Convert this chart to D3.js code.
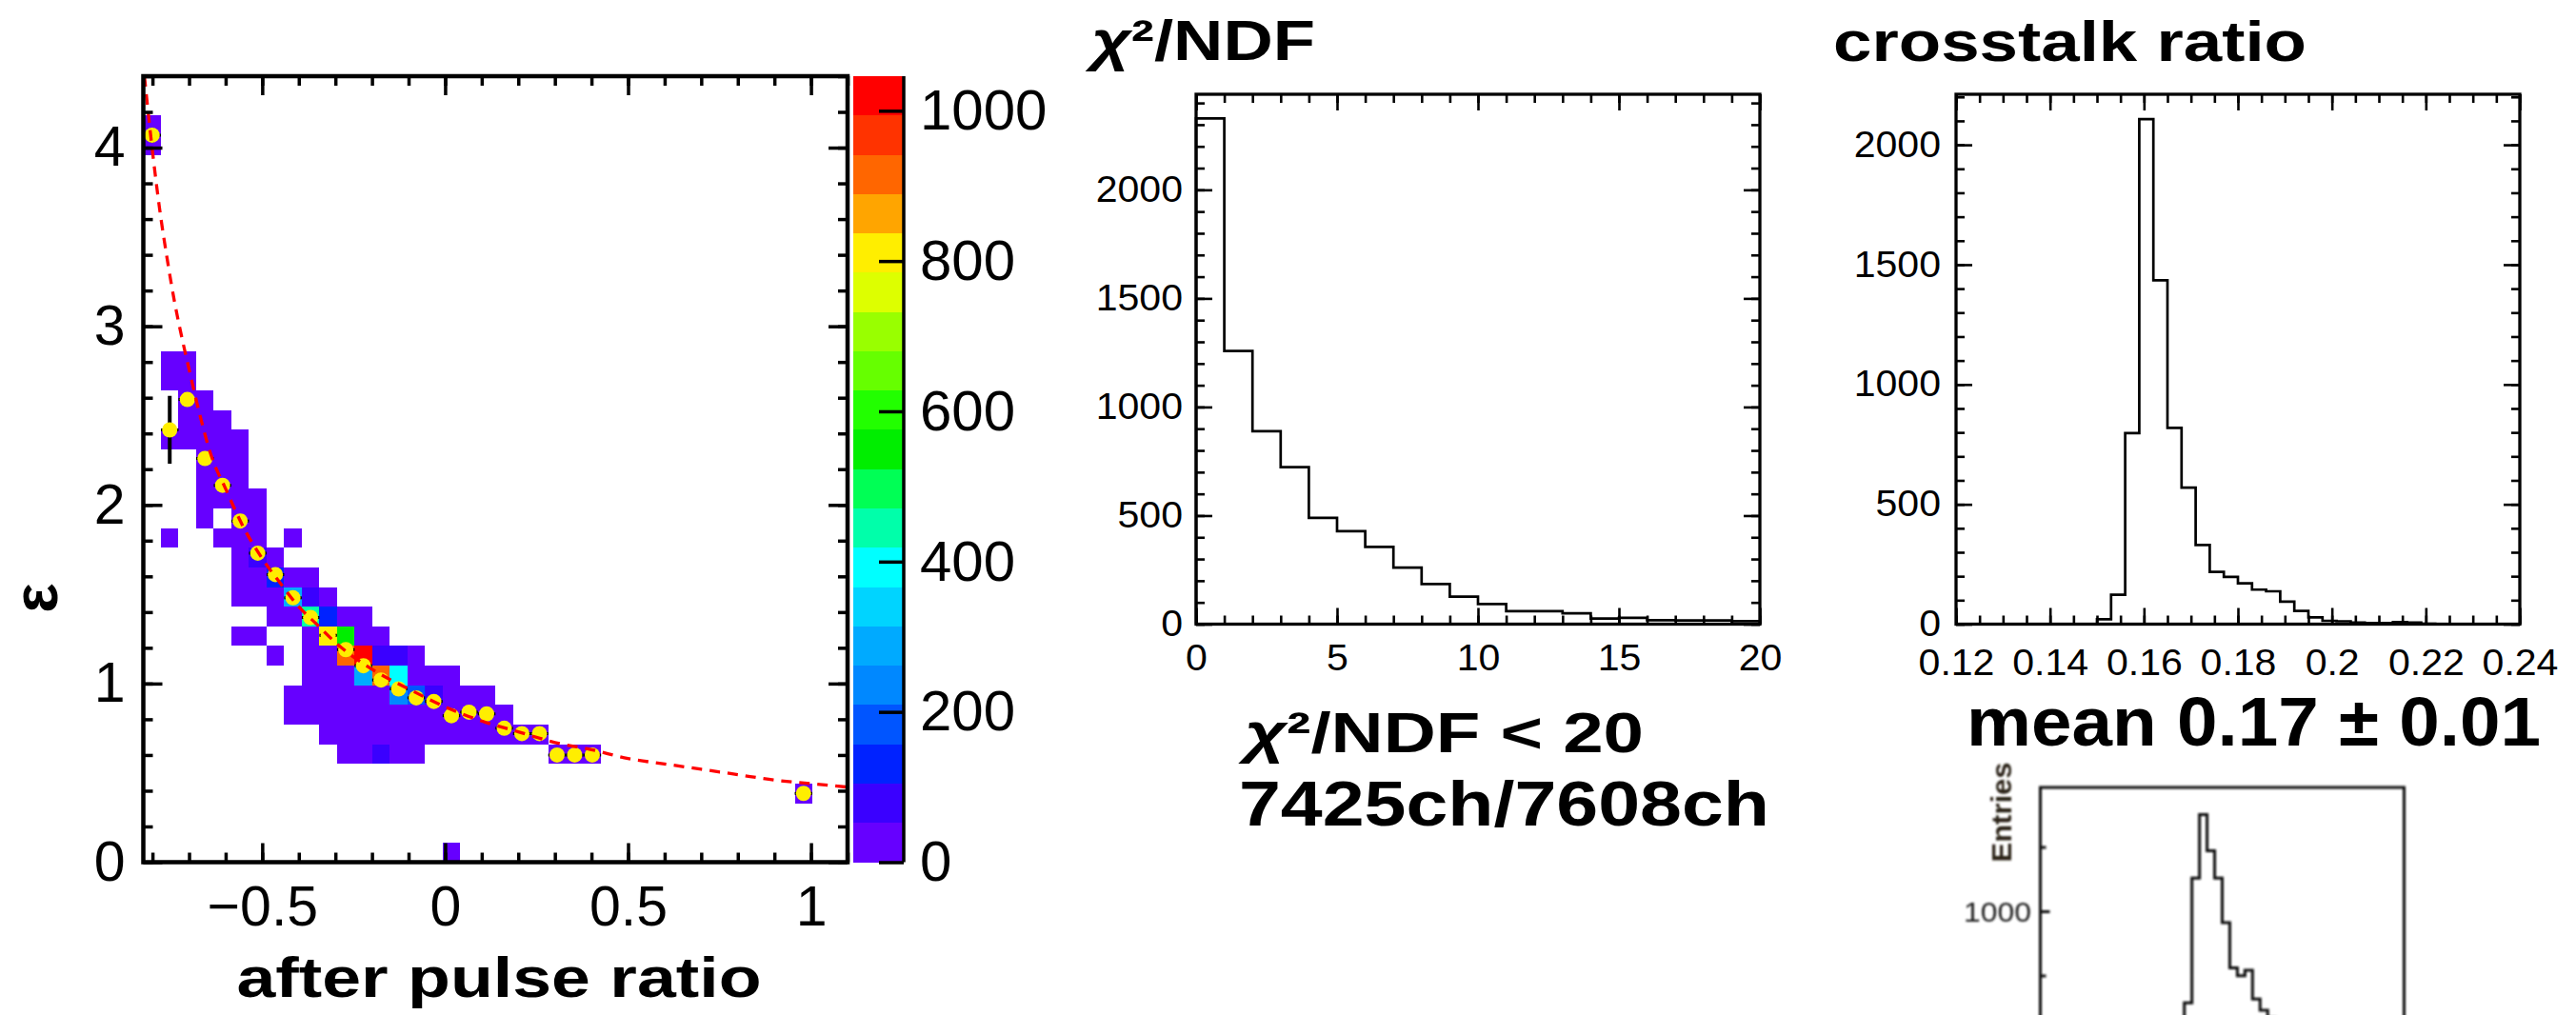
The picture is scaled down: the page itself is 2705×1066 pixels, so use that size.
<!DOCTYPE html>
<html>
<head>
<meta charset="utf-8">
<script src="https://cdn.jsdelivr.net/npm/d3@7"></script>
<style>
  html, body { margin: 0; padding: 0; background: #fff; }
  svg { display: block; }
</style>
</head>
<body>
<svg id="fig" width="2705" height="1066"></svg>
<script>
// ---------- after-pulse ratio vs epsilon map ----------
const apRange = [-0.825, 1.1];     // x axis of the 2D map
const epsRange = [0, 4.4];         // y axis of the 2D map
const nMapBins = 40;               // 40 x 40 binning
// [x bin, y bin, entries]
const mapCells = [
  [0,37,3],[0,36,3],
  [1,25,2],[2,25,3],
  [1,24,2],[2,24,4],
  [2,23,6],[3,23,3],
  [2,22,4],[3,22,6],[4,22,2],
  [1,21,3],[2,21,3],[3,21,6],[4,21,5],[5,21,2],
  [3,20,5],[4,20,8],[5,20,4],
  [3,19,3],[4,19,9],[5,19,8],
  [3,18,2],[4,18,7],[5,18,12],[6,18,5],
  [3,17,1],[5,17,10],[6,17,14],
  [1,16,1],[4,16,2],[5,16,8],[6,16,22],[8,16,2],
  [5,15,4],[6,15,75],[7,15,30],
  [5,14,3],[6,14,12],[7,14,130],[8,14,40],[9,14,6],
  [5,13,2],[6,13,4],[7,13,20],[8,13,290],[9,13,80],[10,13,8],
  [7,12,3],[8,12,25],[9,12,440],[10,12,140],[11,12,30],[12,12,4],
  [5,11,1],[6,11,1],[9,11,15],[10,11,810],[11,11,560],[12,11,35],[13,11,6],
  [7,10,1],[9,10,5],[10,10,40],[11,10,915],[12,10,1020],[13,10,70],[14,10,70],[15,10,10],
  [9,9,3],[10,9,12],[11,9,45],[12,9,290],[13,9,925],[14,9,390],[15,9,45],[16,9,12],[17,9,4],
  [8,8,2],[9,8,4],[10,8,10],[11,8,20],[12,8,40],[13,8,48],[14,8,240],[15,8,180],[16,8,70],[17,8,30],[18,8,10],[19,8,4],
  [8,7,1],[9,7,2],[10,7,6],[11,7,10],[12,7,15],[13,7,20],[14,7,30],[15,7,45],[16,7,40],[17,7,35],[18,7,30],[19,7,20],[20,7,8],
  [10,6,2],[11,6,5],[12,6,8],[13,6,10],[14,6,12],[15,6,15],[16,6,25],[17,6,30],[18,6,40],[19,6,35],[20,6,30],[21,6,22],[22,6,15],
  [11,5,2],[12,5,3],[13,5,65],[14,5,4],[15,5,3],[23,5,10],[24,5,12],[25,5,8],
  [37,3,3],
  [17,0,1]
];
// profile: x bin, mean epsilon, error
const profBin  = [0,1,2,3,4,5,6,7,8,9,10,11,12,13,14,15,16,17,18,19,20,21,22,23,24,25,37];
const profMean = [4.07,2.42,2.59,2.26,2.11,1.91,1.73,1.61,1.48,1.37,1.27,1.19,1.10,1.02,0.97,0.92,0.90,0.82,0.84,0.83,0.75,0.72,0.72,0.60,0.60,0.60,0.385];
const profErr  = [0.04,0.19,0.03,0.03,0.03,0.03,0.02,0.02,0.01,0.01,0.01,0.01,0.01,0.01,0.01,0.01,0.01,0.02,0.01,0.01,0.01,0.01,0.01,0.01,0.01,0.01,0];
// fitted curve, sampled
const fitX = [-0.822,-0.80,-0.78,-0.76,-0.74,-0.72,-0.70,-0.67,-0.64,-0.60,-0.55,-0.50,-0.45,-0.40,-0.35,-0.30,-0.20,-0.10,0.0,0.1,0.2,0.3,0.4,0.5,0.6,0.7,0.8,0.9,1.0,1.1];
const fitY = [4.40,3.98,3.65,3.38,3.14,2.94,2.76,2.50,2.28,2.09,1.87,1.70,1.56,1.43,1.33,1.23,1.08,0.97,0.87,0.79,0.73,0.67,0.63,0.58,0.55,0.52,0.49,0.46,0.44,0.42];
const apXTicks = [-0.5, 0, 0.5, 1];
const epsTicks = [0, 1, 2, 3, 4];
// colour scale
const zMax = 1046;
const zTicks = [0, 200, 400, 600, 800, 1000];
const paletteColors = ["#6600ff","#3a00ff","#0022ff","#0055ff","#0088ff","#00aaff","#00d4ff","#00ffff","#00ffaa","#00ff55",
                       "#00ee00","#22ff00","#66ff00","#99ff00","#ddff00","#ffee00","#ffa500","#ff6600","#ff3300","#ff0000"];

// ---------- chi2/NDF distribution ----------
const chiRange = [0, 20];
const chiCounts = [2329,1258,888,723,489,428,356,260,185,127,93,60,60,50,26,29,18,17,17,14];
const chiYMax = 2440;
const chiXTicks = [0, 5, 10, 15, 20];
const chiYTicks = [0, 500, 1000, 1500, 2000];

// ---------- crosstalk ratio distribution ----------
const ctRange = [0.12, 0.24];
const ctCounts = [0,0,0,0,0,0,0,0,0,0,20,123,797,2107,1435,819,570,330,218,197,170,144,137,94,55,28,14,12,7,5,5,9,7,2,1,0,0,0,0,0];
const ctYMax = 2211;
const ctXTicks = [0.12, 0.14, 0.16, 0.18, 0.2, 0.22, 0.24];
const ctYTicks = [0, 500, 1000, 1500, 2000];

// ---------- small reference histogram ----------
const insetCounts = [0,0,0,0,0,0,0,0,0,0,0,0,0,0,0,0,0,10,40,287,1257,1752,1470,1257,911,560,498,540,317,230,170,120,80,50,30,20,10,0,0,0,0,0,0,0,0,0,0,0];
const insetYMax = 1963;
const insetYTicks = [500, 1000, 1500];

// ---------- text ----------
const FONT = '"Liberation Sans", Arial, Helvetica, sans-serif';
const svg = d3.select("#fig");
const defs = svg.append("defs");

function squeeze(sel, s) {
  if (!s || s === 1) return;
  sel.selectAll("text").each(function () {
    const t = d3.select(this);
    const x = +(t.attr("x") || 0);
    t.attr("x", x / s).attr("transform", `scale(${s},1)`);
  });
}

// ROOT-like frame: inward ticks on all four sides, labels bottom / left
function rootFrame(g, x, y, c) {
  const [xl, xr] = x.range();
  const [yb, yt] = y.range();
  const mk = (gen, tx, ty, vals, len, fmt, pad) => {
    const a = g.append("g").attr("transform", `translate(${tx},${ty})`)
      .call(gen.tickValues(vals).tickSize(-len).tickPadding(pad == null ? 3 : pad).tickFormat(fmt || (() => "")));
    a.select(".domain").remove();
    a.attr("font-family", null).attr("font-size", null);
    a.selectAll(".tick line").attr("stroke", "#000").attr("stroke-width", c.tickW);
    a.selectAll("text").attr("fill", "#000").attr("font-size", c.font).attr("font-family", FONT);
    return a;
  };
  mk(d3.axisBottom(x), 0, yb, c.xMinor, c.minor);
  const bx = mk(d3.axisBottom(x), 0, yb, c.xMajor, c.major, c.xFmt, c.xPad);
  mk(d3.axisTop(x), 0, yt, c.xMinor, c.minor);
  mk(d3.axisTop(x), 0, yt, c.xMajor, c.major);
  mk(d3.axisLeft(y), xl, 0, c.yMinor, c.minor);
  const ly = mk(d3.axisLeft(y), xl, 0, c.yMajor, c.major, c.yFmt, c.yPad);
  mk(d3.axisRight(y), xr, 0, c.yMinor, c.minor);
  mk(d3.axisRight(y), xr, 0, c.yMajor, c.major);
  g.append("rect").attr("x", xl).attr("y", yt).attr("width", xr - xl).attr("height", yb - yt)
    .attr("fill", "none").attr("stroke", "#000").attr("stroke-width", c.frameW);
  squeeze(bx, c.sx);
  squeeze(ly, c.sx);
}

function stepPath(counts) {
  const pts = [[0, 0]];
  counts.forEach((v, i) => pts.push([i, v]));
  pts.push([counts.length, 0]);
  return pts;
}

function label(x, y, str, size, len, anchor) {
  const t = svg.append("text").attr("x", x).attr("y", y)
    .attr("font-family", FONT).attr("font-weight", "bold").attr("font-size", size)
    .attr("fill", "#000").attr("text-anchor", anchor || "start");
  if (str) t.text(str);
  if (len) t.attr("textLength", len).attr("lengthAdjust", "spacingAndGlyphs");
  return t;
}

// ================= 2D map =================
const xAP = d3.scaleLinear().domain(apRange).range([150.5, 890]);
const yEps = d3.scaleLinear().domain(epsRange).range([905.5, 80]);
const bwX = (apRange[1] - apRange[0]) / nMapBins;
const bwY = (epsRange[1] - epsRange[0]) / nMapBins;
const zColor = d3.scaleQuantize().domain([0, zMax]).range(paletteColors);

defs.append("clipPath").attr("id", "mapClip")
  .append("rect").attr("x", 150.5).attr("y", 80).attr("width", 890 - 150.5).attr("height", 905.5 - 80);

const gMap = svg.append("g");
gMap.append("g").selectAll("rect").data(mapCells).join("rect")
  .attr("x", d => xAP(apRange[0] + d[0] * bwX))
  .attr("width", d => xAP(apRange[0] + (d[0] + 1) * bwX) - xAP(apRange[0] + d[0] * bwX))
  .attr("y", d => yEps(epsRange[0] + (d[1] + 1) * bwY))
  .attr("height", d => yEps(epsRange[0] + d[1] * bwY) - yEps(epsRange[0] + (d[1] + 1) * bwY))
  .attr("fill", d => zColor(d[2]))
  .attr("shape-rendering", "crispEdges");

// profile points
const prof = profBin.map((b, i) => ({ b, m: profMean[i], e: profErr[i] }));
const gProf = gMap.append("g").attr("clip-path", "url(#mapClip)");
gProf.selectAll("line.ex").data(prof).join("line").attr("class", "ex")
  .attr("x1", d => xAP(apRange[0] + d.b * bwX)).attr("x2", d => xAP(apRange[0] + (d.b + 1) * bwX))
  .attr("y1", d => yEps(d.m)).attr("y2", d => yEps(d.m))
  .attr("stroke", "#000").attr("stroke-width", 3);
gProf.selectAll("line.ey").data(prof).join("line").attr("class", "ey")
  .attr("x1", d => xAP(apRange[0] + (d.b + 0.5) * bwX)).attr("x2", d => xAP(apRange[0] + (d.b + 0.5) * bwX))
  .attr("y1", d => yEps(d.m - d.e)).attr("y2", d => yEps(d.m + d.e))
  .attr("stroke", "#000").attr("stroke-width", 4);
gProf.selectAll("circle").data(prof).join("circle")
  .attr("cx", d => xAP(apRange[0] + (d.b + 0.5) * bwX)).attr("cy", d => yEps(d.m))
  .attr("r", 8).attr("fill", "#ffee00");

// fit curve
gMap.append("path").attr("clip-path", "url(#mapClip)")
  .datum(fitX.map((x, i) => [x, fitY[i]]))
  .attr("d", d3.line().x(d => xAP(d[0])).y(d => yEps(d[1])).curve(d3.curveMonotoneX))
  .attr("fill", "none").attr("stroke", "#ff0000").attr("stroke-width", 3.3).attr("stroke-dasharray", "11 8");

rootFrame(gMap, xAP, yEps, {
  xMajor: apXTicks, xMinor: d3.range(-8, 12).map(k => k / 10),
  yMajor: epsTicks, yMinor: d3.range(0, 23).map(k => k / 5),
  major: 20, minor: 10, tickW: 3.5, frameW: 4.5, font: 59,
  xFmt: d3.format("~g"), yFmt: d3.format("~g"), xPad: 25, yPad: 19, sx: 1
});

// colour bar
const yZ = d3.scaleLinear().domain([0, zMax]).range([905.5, 80]);
const gBar = svg.append("g");
gBar.selectAll("rect").data(paletteColors).join("rect")
  .attr("x", 896).attr("width", 949 - 896)
  .attr("y", (c, k) => yZ((k + 1) * zMax / paletteColors.length))
  .attr("height", (c, k) => yZ(k * zMax / paletteColors.length) - yZ((k + 1) * zMax / paletteColors.length))
  .attr("fill", c => c).attr("shape-rendering", "crispEdges");
const zAx = gBar.append("g").attr("transform", "translate(949,0)")
  .call(d3.axisRight(yZ).tickValues(zTicks).tickSize(-26).tickPadding(17).tickFormat(d3.format("d")));
zAx.select(".domain").remove();
zAx.attr("font-family", null).attr("font-size", null);
zAx.selectAll(".tick line").attr("stroke", "#000").attr("stroke-width", 3.5);
zAx.selectAll("text").attr("fill", "#000").attr("font-size", 60).attr("font-family", FONT);
gBar.append("line").attr("x1", 949).attr("x2", 949).attr("y1", 80).attr("y2", 905.5)
  .attr("stroke", "#000").attr("stroke-width", 3.5);

// axis titles
label(524, 1047, "after pulse ratio", 60, 551, "middle");
label(0, 0, "ε", 66, null, "middle").attr("transform", "translate(60,628) rotate(-90)");

// ================= chi2/NDF =================
const xChi = d3.scaleLinear().domain(chiRange).range([1256, 1848]);
const yChi = d3.scaleLinear().domain([0, chiYMax]).range([655.5, 99]);
const chiStep = (chiRange[1] - chiRange[0]) / chiCounts.length;
const gChi = svg.append("g");
gChi.append("path").datum(stepPath(chiCounts))
  .attr("d", d3.line().x(d => xChi(chiRange[0] + d[0] * chiStep)).y(d => yChi(d[1])).curve(d3.curveStepAfter))
  .attr("fill", "none").attr("stroke", "#000").attr("stroke-width", 2.7);
rootFrame(gChi, xChi, yChi, {
  xMajor: chiXTicks, xMinor: d3.range(0, 21),
  yMajor: chiYTicks, yMinor: d3.range(0, 2500, 100),
  major: 17, minor: 9, tickW: 2.6, frameW: 3.3, font: 38,
  xFmt: d3.format("d"), yFmt: d3.format("d"), xPad: 22, yPad: 14, sx: 1.08
});
label(1146, 63, "", 60, 235).call(t => {
  t.append("tspan").attr("font-style", "italic").text("χ");
  t.append("tspan").text("²/NDF");
});
label(1307, 790, "", 60, 419).call(t => {
  t.append("tspan").attr("font-style", "italic").text("χ");
  t.append("tspan").text("²/NDF < 20");
});
label(1301, 867, "7425ch/7608ch", 66, 557);

// ================= crosstalk ratio =================
const xCT = d3.scaleLinear().domain(ctRange).range([2054, 2646]);
const yCT = d3.scaleLinear().domain([0, ctYMax]).range([655.5, 99]);
const ctStep = (ctRange[1] - ctRange[0]) / ctCounts.length;
const gCT = svg.append("g");
gCT.append("path").datum(stepPath(ctCounts))
  .attr("d", d3.line().x(d => xCT(ctRange[0] + d[0] * ctStep)).y(d => yCT(d[1])).curve(d3.curveStepAfter))
  .attr("fill", "none").attr("stroke", "#000").attr("stroke-width", 2.7);
rootFrame(gCT, xCT, yCT, {
  xMajor: ctXTicks, xMinor: d3.range(0, 25).map(k => 0.12 + k * 0.005),
  yMajor: ctYTicks, yMinor: d3.range(0, 2300, 100),
  major: 17, minor: 9, tickW: 2.6, frameW: 3.3, font: 38,
  xFmt: d => String(+d.toFixed(2)), yFmt: d3.format("d"), xPad: 27, yPad: 16, sx: 1.08
});
label(1925, 64, "crosstalk ratio", 60, 497);
label(2065, 783, "mean 0.17 ± 0.01", 72, 603);

// ================= small reference histogram =================
const xIn = d3.scaleLinear().domain([0, insetCounts.length]).range([2142.5, 2524.5]);
const yIn = d3.scaleLinear().domain([0, insetYMax]).range([1092, 827]);
defs.append("filter").attr("id", "soft").append("feGaussianBlur").attr("stdDeviation", 1.1);
const gIn = svg.append("g").attr("filter", "url(#soft)");
gIn.append("path").datum(stepPath(insetCounts))
  .attr("d", d3.line().x(d => xIn(d[0])).y(d => yIn(d[1])).curve(d3.curveStepAfter))
  .attr("fill", "none").attr("stroke", "#111").attr("stroke-width", 3);
const inAx = gIn.append("g").attr("transform", "translate(2142.5,0)")
  .call(d3.axisRight(yIn).tickValues(insetYTicks).tickSize(6).tickFormat(""));
inAx.select(".domain").remove();
inAx.selectAll(".tick line").attr("stroke", "#111").attr("stroke-width", 3)
  .attr("x2", d => d === 1000 ? 10 : 6);
gIn.append("rect").attr("x", 2142.5).attr("y", 827).attr("width", 2524.5 - 2142.5).attr("height", 1092 - 827)
  .attr("fill", "none").attr("stroke", "#111").attr("stroke-width", 3);
gIn.append("text").attr("x", 2133).attr("y", yIn(1000)).attr("dy", "0.36em")
  .attr("text-anchor", "end").attr("font-family", FONT).attr("font-size", 30).attr("fill", "#222")
  .attr("textLength", 71).attr("lengthAdjust", "spacingAndGlyphs").text("1000");
gIn.append("text").attr("transform", "translate(2112,853) rotate(-90)")
  .attr("text-anchor", "middle").attr("font-family", FONT).attr("font-weight", "bold")
  .attr("font-size", 30).attr("fill", "#2a2418").attr("textLength", 105).attr("lengthAdjust", "spacingAndGlyphs")
  .text("Entries");
</script>
</body>
</html>
